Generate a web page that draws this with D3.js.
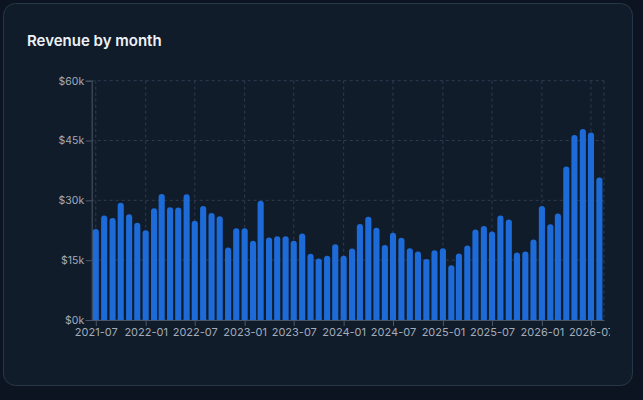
<!DOCTYPE html>
<html>
<head>
<meta charset="utf-8">
<script src="https://cdn.jsdelivr.net/npm/d3@7/dist/d3.min.js"></script>
<style>
  html, body { margin: 0; padding: 0; background: #0b1420; }
  svg { display: block; }
</style>
</head>
<body>
<svg id="chart" width="643" height="400"></svg>
<script>
const months = [
  "2021-07","2021-08","2021-09","2021-10","2021-11","2021-12",
  "2022-01","2022-02","2022-03","2022-04","2022-05","2022-06","2022-07","2022-08","2022-09","2022-10","2022-11","2022-12",
  "2023-01","2023-02","2023-03","2023-04","2023-05","2023-06","2023-07","2023-08","2023-09","2023-10","2023-11","2023-12",
  "2024-01","2024-02","2024-03","2024-04","2024-05","2024-06","2024-07","2024-08","2024-09","2024-10","2024-11","2024-12",
  "2025-01","2025-02","2025-03","2025-04","2025-05","2025-06","2025-07","2025-08","2025-09","2025-10","2025-11","2025-12",
  "2026-01","2026-02","2026-03","2026-04","2026-05","2026-06","2026-07","2026-08"
];
const revenue = [
  22800, 26200, 25600, 29400, 26500, 24400,
  22500, 28000, 31600, 28300, 28200, 31500, 24900, 28600, 26800, 26000, 18200, 23000,
  23000, 19900, 29900, 20700, 21000, 21000, 19900, 21700, 16600, 15400, 16100, 19000,
  16100, 17900, 24100, 25900, 23100, 18800, 21900, 20600, 18000, 17200, 15300, 17500,
  18000, 13700, 16700, 18700, 22700, 23600, 22200, 26200, 25200, 16900, 17200, 20200,
  28600, 24000, 26700, 38500, 46400, 47900, 47000, 35700
];
const yTicks = [0, 15000, 30000, 45000, 60000];
const title = "Revenue by month";

const parse = d3.timeParse("%Y-%m");
const data = months.map((m, i) => ({ date: parse(m), value: revenue[i] }));

const svg = d3.select("#chart");
const W = 643, H = 400;

// card
svg.append("rect")
  .attr("x", 3.5).attr("y", 3.5)
  .attr("width", 629).attr("height", 382)
  .attr("rx", 12).attr("ry", 12)
  .attr("fill", "#111c2b")
  .attr("stroke", "#283748").attr("stroke-width", 1);

svg.append("text")
  .attr("x", 27).attr("y", 46)
  .attr("fill", "#eef2f7")
  .attr("font-family", "Inter, 'Noto Sans', sans-serif")
  .attr("font-weight", 600)
  .attr("font-size", 15)
  .text(title);

const plot = { left: 91.7, right: 604, top: 80.7, bottom: 320 };

const x = d3.scaleTime()
  .domain([new Date(2021, 5, 16), new Date(2026, 7, 18)])
  .range([plot.left, plot.right]);
const y = d3.scaleLinear()
  .domain([0, 60000])
  .range([plot.bottom, plot.top]);

const defs = svg.append("defs");
defs.append("clipPath").attr("id", "clipx")
  .append("rect").attr("x", 0).attr("y", 0).attr("width", 610).attr("height", H);

const g = svg.append("g").attr("clip-path", "url(#clipx)");

const xTickDates = d3.timeMonth.every(6).range(new Date(2021, 6, 1), new Date(2026, 7, 2));
const fmt = d3.timeFormat("%Y-%m");

// grid
const gridColor = "#2e3c4f";
g.append("g").selectAll("line.h").data(yTicks).join("line")
  .attr("x1", plot.left).attr("x2", plot.right)
  .attr("y1", d => y(d)).attr("y2", d => y(d))
  .attr("stroke", gridColor).attr("stroke-dasharray", "3,3");
g.append("g").selectAll("line.v").data(xTickDates).join("line")
  .attr("x1", d => x(d)).attr("x2", d => x(d))
  .attr("y1", plot.top).attr("y2", plot.bottom)
  .attr("stroke", gridColor).attr("stroke-dasharray", "3,3");
g.append("line")
  .attr("x1", plot.right).attr("x2", plot.right)
  .attr("y1", plot.top).attr("y2", plot.bottom)
  .attr("stroke", gridColor).attr("stroke-dasharray", "3,3");

// bars
const step = (x(data[data.length - 1].date) - x(data[0].date)) / (data.length - 1);
const bw = step * 0.74;
const r = 3;
g.append("g").selectAll("path").data(data).join("path")
  .attr("fill", "#1d6bd8")
  .attr("d", d => {
    const cx = x(d.date), x0 = cx - bw / 2, x1 = cx + bw / 2;
    const yt = y(d.value), yb = y(0);
    return `M${x0},${yb}V${yt + r}Q${x0},${yt} ${x0 + r},${yt}H${x1 - r}Q${x1},${yt} ${x1},${yt + r}V${yb}Z`;
  });

// axes
const axisColor = "#4a5769";
const labelColor = "#a2acba";
const yAxis = g.append("g")
  .attr("transform", `translate(${plot.left},0)`)
  .call(d3.axisLeft(y).tickValues(yTicks).tickFormat(d => "$" + (d / 1000) + "k").tickSize(6));
const xAxis = g.append("g")
  .attr("transform", `translate(0,${plot.bottom})`)
  .call(d3.axisBottom(x).tickValues(xTickDates).tickFormat(fmt).tickSize(6).tickSizeOuter(0));

[yAxis, xAxis].forEach(a => {
  a.selectAll("path, line").attr("stroke", axisColor);
  a.selectAll("text")
    .attr("fill", labelColor)
    .attr("font-family", "Inter, 'Noto Sans', sans-serif")
    .attr("font-size", 11);
});
yAxis.selectAll("text").attr("x", -7.5).attr("font-size", 10.5);
xAxis.selectAll("text").attr("y", 8);
</script>
</body>
</html>
